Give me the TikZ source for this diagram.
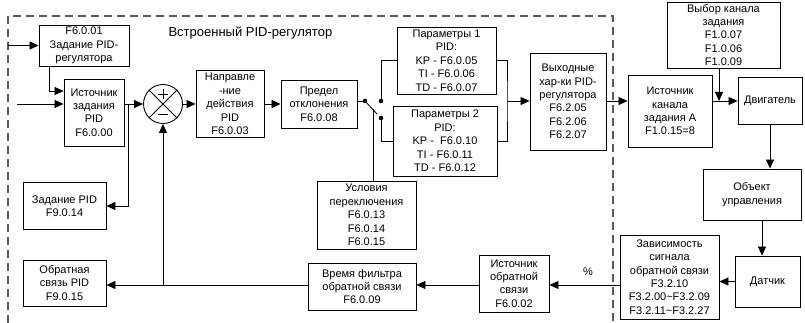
\documentclass[tikz,border=0pt]{standalone}
\usepackage{fontspec}
\setmainfont{Liberation Sans}
\usetikzlibrary{arrows.meta}
\newcommand\bxfont{\fontsize{11}{13.4}\selectfont}
\definecolor{dashgray}{HTML}{5A5A5A}
\begin{document}
\begin{tikzpicture}[x=1pt,y=-1pt,
  box/.style={draw, line width=0.9pt, align=center, inner sep=1pt, font=\bxfont},
  arr/.style={line width=0.8pt, -{Triangle[length=9pt,width=8pt]}},
  ln/.style={line width=0.8pt},
  frame/.style={draw=dashgray, line width=1.1pt, dash pattern=on 8pt off 5pt}]
\useasboundingbox (0,0) rectangle (805,323);
% dashed frame
\draw[frame] (8,323) -- (8,16) -- (613,16) -- (613,323);
\node[anchor=base west, font=\fontsize{13}{15}\selectfont] (title) at (165,37) {Встроенный PID-регулятор};
% boxes
\node[box, minimum width=90pt, minimum height=41pt] (zad01) at (84,45.5) {F6.0.01\\Задание PID-\\регулятора};
\node[box, minimum width=60pt, minimum height=67pt] (ist) at (94,112.5) {Источник\\задания\\PID\\F6.0.00};
\node[box, minimum width=83pt, minimum height=47pt] (zad14) at (64.5,206) {Задание PID\\F9.0.14};
\node[box, minimum width=83pt, minimum height=46pt] (obr15) at (64.5,283) {Обратная\\связь PID\\F9.0.15};
\node[draw, circle, line width=0.9pt, minimum size=39pt, inner sep=0pt] (sum) at (163,104) {};
\node[box, minimum width=68pt, minimum height=67pt] (napr) at (230,104) {Направле\\-ние\\действия\\PID\\F6.0.03};
\node[box, minimum width=76pt, minimum height=48pt] (pred) at (319,104) {Предел\\отклонения\\F6.0.08};
\node[box, minimum width=99pt, minimum height=67pt] (par1) at (446.5,60.5) {Параметры 1\\PID:\\KP - F6.0.05\\TI - F6.0.06\\TD - F6.0.07};
\node[box, minimum width=104pt, minimum height=70pt] (par2) at (445,141) {Параметры 2\\PID:\\KP -\ \ F6.0.10\\TI - F6.0.11\\TD - F6.0.12};
\node[box, minimum width=99pt, minimum height=68pt] (usl) at (366.5,215) {Условия\\переключения\\F6.0.13\\F6.0.14\\F6.0.15};
\node[box, minimum width=108pt, minimum height=47pt] (vremya) at (362,286.5) {Время фильтра\\обратной связи\\F6.0.09};
\node[box, minimum width=70pt, minimum height=57pt] (istobr) at (514,283.5) {Источник\\обратной\\связи\\F6.0.02};
\node[box, minimum width=76pt, minimum height=97pt] (vyh) at (568,101.5) {Выходные\\хар-ки PID-\\регулятора\\F6.2.05\\F6.2.06\\F6.2.07};
\node[box, minimum width=84pt, minimum height=72pt] (istA) at (670,111) {Источник\\канала\\задания А\\F1.0.15=8};
\node[box, minimum width=113pt, minimum height=66pt] (vybor) at (723.5,35) {Выбор канала\\задания\\F1.0.07\\F1.0.06\\F1.0.09};
\node[box, minimum width=64pt, minimum height=47pt] (dvig) at (770,101) {Двигатель};
\node[box, minimum width=98pt, minimum height=51pt] (obj) at (752,194.5) {Объект\\управления};
\node[box, minimum width=65pt, minimum height=51pt] (datch) at (767.5,281.5) {Датчик};
\node[box, minimum width=99pt, minimum height=84pt] (zavis) at (669.5,277) {Зависимость\\сигнала\\обратной связи\\F3.2.10\\F3.2.00\textasciitilde F3.2.09\\F3.2.11\textasciitilde F3.2.27};
% summing junction marks
\draw[ln] (sum.45) -- (sum.225);
\draw[ln] (sum.135) -- (sum.315);
\draw[line width=0.9pt] (158,94) -- (168,94) (163,89) -- (163,99);
\draw[line width=0.9pt] (158,114) -- (168,114);
% coordinates
\coordinate (inA) at (8,45.5);
\coordinate (inB) at (17,104);
\coordinate (j1) at (49,91);
\coordinate (j2) at (128,104);
\coordinate (fb) at (163,285);
\coordinate (piv) at (365,101);
\coordinate (cU) at (381,101);
\coordinate (cL) at (381,118);
\coordinate (bl) at (377,114);
\coordinate (sw) at (373,109.5);
\coordinate (mx) at (507,101);
\coordinate (ya) at (0,101);
\coordinate (jv) at (719,101);
\coordinate (ox) at (762,0);
\coordinate (fy) at (0,285);
% connectors left part
\draw[arr] (inA) -- (zad01.west |- inA);
\draw[arr] (inB) -- (ist.west |- inB);
\draw[arr] (zad01.south -| j1) |- (ist.west |- j1);
\draw[arr] (ist.east |- sum) -- (sum.west);
\draw[arr] (j2) |- (zad14.east);
\draw[arr] (vremya.west |- fb) -- (obr15.east |- fb);
\draw[arr] (fb) -- (sum.south);
\draw[arr] (sum.east) -- (napr.west);
\draw[arr] (napr.east) -- (pred.west);
% switch
\draw[ln] (pred.east |- piv) -- (piv);
\draw[ln] (piv) -- (bl);
\fill (piv) circle (2.3pt);
\fill (cU) circle (2.3pt);
\fill (cL) circle (2.3pt);
\draw[ln] (cU) |- (par1.west);
\draw[ln] (cL) |- (par2.west);
\draw[ln] (sw) -- (usl.north -| sw);
% merge
\draw[ln] (par1.east) -| (mx) |- (par2.east);
\draw[arr] (mx) -- (vyh.west |- mx);
% right part
\draw[arr] (vyh.east |- ya) -- (istA.west |- ya);
\draw[arr] (istA.east |- ya) -- (dvig.west |- ya);
\draw[arr] (vybor.south -| jv) -- (jv);
\draw[arr] (dvig.south) -- (obj.north -| dvig.south);
\draw[arr] (obj.south -| ox) -- (datch.north -| ox);
\draw[arr] (datch.west) -- (zavis.east |- datch.west);
\draw[arr] (zavis.west |- fy) -- (istobr.east |- fy);
\draw[arr] (istobr.west |- fy) -- (vremya.east |- fy);
\node[font=\bxfont] (pct) at (588,272) {\%};
\end{tikzpicture}
\end{document}
